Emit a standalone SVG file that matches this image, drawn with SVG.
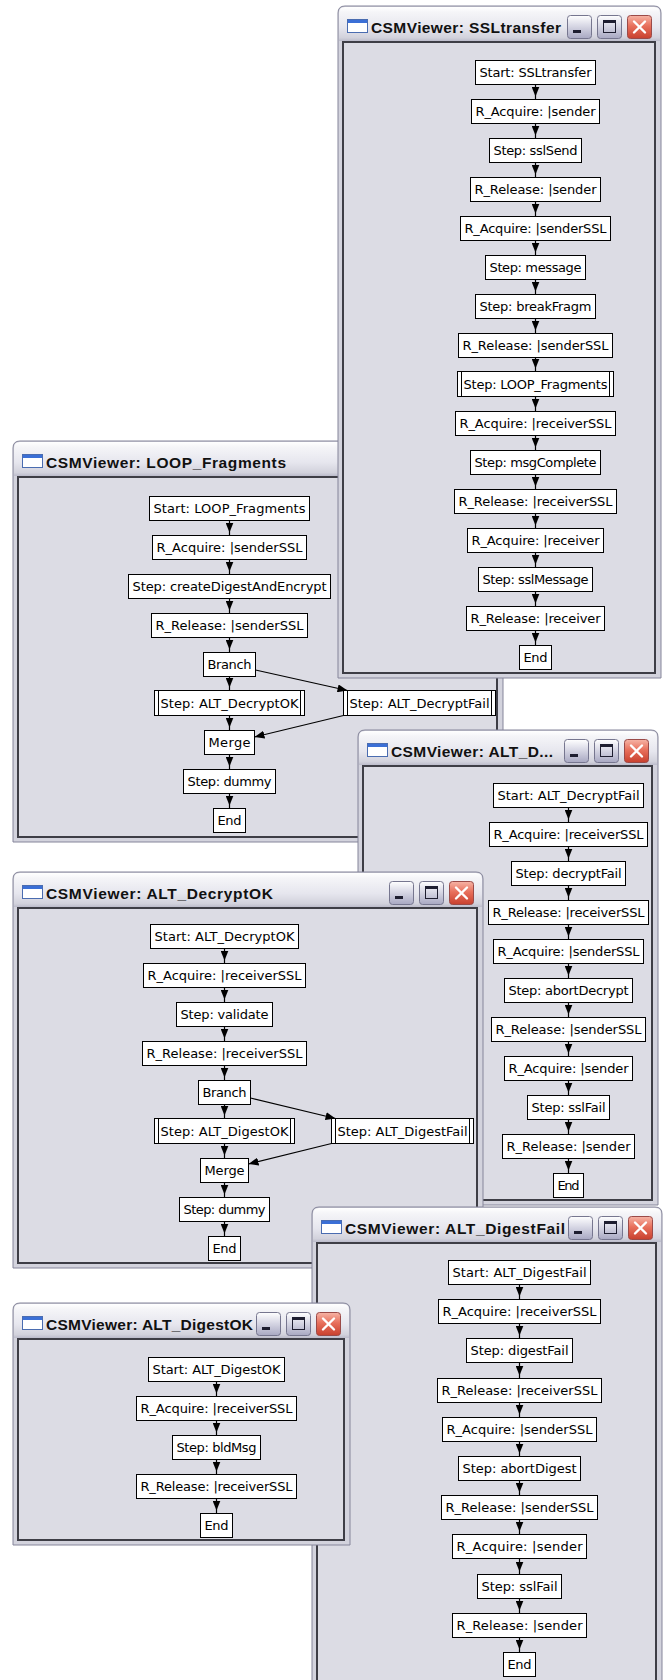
<svg xmlns="http://www.w3.org/2000/svg" xmlns:xlink="http://www.w3.org/1999/xlink" width="665" height="1680" viewBox="0 0 665 1680">
<style>
.frame{fill:#d3d3dd;stroke:#85859a;stroke-width:1}
.tbar{fill:url(#gTitle)}
.client{fill:#dcdce4;stroke:#3e3e46;stroke-width:2}
.ttl{font-family:"Liberation Sans",Arial,sans-serif;font-weight:bold;font-size:15.5px;fill:#111}
.btn{fill:url(#gBtn);stroke:#76768f;stroke-width:1}
.btnx{fill:url(#gClose);stroke:#9a4a48;stroke-width:1}
.xg{stroke:#fff;stroke-width:2.4;stroke-linecap:round;fill:none}
.node rect{fill:#fff;stroke:#000;stroke-width:1}
.node line{stroke:#000;stroke-width:1}
.node text{font-family:"DejaVu Sans",Verdana,sans-serif;font-size:13px;fill:#000;text-anchor:middle}
.conn path{fill:none;stroke:#000;stroke-width:1.2}
.conn .v{marker-mid:url(#ah)}
.conn .d{marker-end:url(#ah)}
</style>
<defs>
<linearGradient id="gTitle" x1="0" y1="0" x2="0" y2="1">
<stop offset="0" stop-color="#ffffff"/><stop offset="0.15" stop-color="#f5f5f8"/><stop offset="0.6" stop-color="#e6e6ee"/><stop offset="0.9" stop-color="#d2d2dc"/><stop offset="1" stop-color="#bcbccb"/>
</linearGradient>
<linearGradient id="gBtn" x1="0" y1="0" x2="0" y2="1">
<stop offset="0" stop-color="#ffffff"/><stop offset="0.4" stop-color="#dcdce8"/><stop offset="1" stop-color="#a8a8c2"/>
</linearGradient>
<linearGradient id="gClose" x1="0" y1="0" x2="0" y2="1">
<stop offset="0" stop-color="#f6b4a6"/><stop offset="0.45" stop-color="#e8705c"/><stop offset="1" stop-color="#c8402e"/>
</linearGradient>
<marker id="ah" viewBox="0 0 10 8" refX="10" refY="4" markerWidth="10" markerHeight="8" markerUnits="userSpaceOnUse" orient="auto">
<path d="M0,0 L10,4 L0,8 z" fill="#000"/>
</marker>
<g id="btnMin"><rect class="btn" x="0.5" y="0.5" width="24" height="23" rx="3"/><rect x="6" y="15" width="8" height="3" fill="#1e1e30"/></g>
<g id="btnMax"><rect class="btn" x="0.5" y="0.5" width="24" height="23" rx="3"/><rect x="6.5" y="5.5" width="12" height="12" fill="none" stroke="#1e1e30"/><rect x="6.5" y="5.5" width="12" height="2.5" fill="#1e1e30"/></g>
<g id="btnClose"><rect class="btnx" x="0.5" y="0.5" width="24" height="23" rx="3"/><path class="xg" d="M7,6.5 L18,17.5 M18,6.5 L7,17.5"/></g>
<g id="winIcon"><rect x="0.5" y="0.5" width="20" height="13" fill="#fff" stroke="#4a6cb0"/><rect x="1" y="1" width="19" height="3" fill="#3b6fd6"/></g>
</defs>

<rect width="665" height="1680" fill="#fff"/>

<!-- window chrome, back to front -->
<g id="win-loop-fragments">
<path class="frame" d="M13,842 V448 Q13,441 20,441 H496 Q503,441 503,448 V842 Z"/>
<path class="tbar" d="M14,476 V448 Q14,442 20,442 H496 Q502,442 502,448 V476 Z"/>
<rect class="client" x="18" y="477" width="479" height="360"/>
<use href="#winIcon" x="22" y="454"/>
<text class="ttl" x="46" y="468" textLength="240">CSMViewer: LOOP_Fragments</text>
</g>

<g id="win-ssltransfer">
<path class="frame" d="M338,678 V13 Q338,6 345,6 H654 Q661,6 661,13 V678 Z"/>
<path class="tbar" d="M339,41 V13 Q339,7 345,7 H654 Q660,7 660,13 V41 Z"/>
<rect class="client" x="343" y="42" width="312" height="631"/>
<use href="#winIcon" x="347" y="19"/>
<text class="ttl" x="371" y="33" textLength="190">CSMViewer: SSLtransfer</text>
<use href="#btnMin" x="567" y="15"/>
<use href="#btnMax" x="597" y="15"/>
<use href="#btnClose" x="627" y="15"/>
</g>

<g id="win-alt-decryptfail">
<path class="frame" d="M358,1205 V737 Q358,730 365,730 H651 Q658,730 658,737 V1205 Z"/>
<path class="tbar" d="M359,765 V737 Q359,731 365,731 H651 Q657,731 657,737 V765 Z"/>
<rect class="client" x="363" y="766" width="289" height="434"/>
<use href="#winIcon" x="367" y="743"/>
<text class="ttl" x="391" y="757" textLength="162">CSMViewer: ALT_D...</text>
<use href="#btnMin" x="564" y="739"/>
<use href="#btnMax" x="594" y="739"/>
<use href="#btnClose" x="624" y="739"/>
</g>

<g id="win-alt-decryptok">
<path class="frame" d="M13,1268 V879 Q13,872 20,872 H476 Q483,872 483,879 V1268 Z"/>
<path class="tbar" d="M14,907 V879 Q14,873 20,873 H476 Q482,873 482,879 V907 Z"/>
<rect class="client" x="18" y="908" width="459" height="355"/>
<use href="#winIcon" x="22" y="885"/>
<text class="ttl" x="46" y="899" textLength="227">CSMViewer: ALT_DecryptOK</text>
<use href="#btnMin" x="389" y="881"/>
<use href="#btnMax" x="419" y="881"/>
<use href="#btnClose" x="449" y="881"/>
</g>

<g id="win-alt-digestfail">
<path class="frame" d="M312,1700 V1214 Q312,1207 319,1207 H655 Q662,1207 662,1214 V1700 Z"/>
<path class="tbar" d="M313,1242 V1214 Q313,1208 319,1208 H655 Q661,1208 661,1214 V1242 Z"/>
<rect class="client" x="317" y="1243" width="339" height="460"/>
<use href="#winIcon" x="321" y="1220"/>
<text class="ttl" x="345" y="1234" textLength="220">CSMViewer: ALT_DigestFail</text>
<use href="#btnMin" x="568" y="1216"/>
<use href="#btnMax" x="598" y="1216"/>
<use href="#btnClose" x="628" y="1216"/>
</g>

<g id="win-alt-digestok">
<path class="frame" d="M13,1545 V1310 Q13,1303 20,1303 H343 Q350,1303 350,1310 V1545 Z"/>
<path class="tbar" d="M14,1338 V1310 Q14,1304 20,1304 H343 Q349,1304 349,1310 V1338 Z"/>
<rect class="client" x="18" y="1339" width="326" height="201"/>
<use href="#winIcon" x="22" y="1316"/>
<text class="ttl" x="46" y="1330" textLength="207">CSMViewer: ALT_DigestOK</text>
<use href="#btnMin" x="256" y="1312"/>
<use href="#btnMax" x="286" y="1312"/>
<use href="#btnClose" x="316" y="1312"/>
</g>

<!-- SSLtransfer nodes -->
<g id="ssl-start" class="node"><rect x="475.5" y="60.5" width="120" height="24"/><text x="535.5" y="77" textLength="112">Start: SSLtransfer</text></g>
<g id="ssl-acq-sender" class="node"><rect x="471.5" y="99.5" width="128" height="24"/><text x="535.5" y="116" textLength="120">R_Acquire: |sender</text></g>
<g id="ssl-sslsend" class="node"><rect x="489.5" y="138.5" width="92" height="24"/><text x="535.5" y="155" textLength="84">Step: sslSend</text></g>
<g id="ssl-rel-sender" class="node"><rect x="470.5" y="177.5" width="130" height="24"/><text x="535.5" y="194" textLength="122">R_Release: |sender</text></g>
<g id="ssl-acq-senderssl" class="node"><rect x="460.5" y="216.5" width="150" height="24"/><text x="535.5" y="233" textLength="142">R_Acquire: |senderSSL</text></g>
<g id="ssl-message" class="node"><rect x="485.5" y="255.5" width="100" height="24"/><text x="535.5" y="272" textLength="92">Step: message</text></g>
<g id="ssl-breakfragm" class="node"><rect x="475.5" y="294.5" width="120" height="24"/><text x="535.5" y="311" textLength="112">Step: breakFragm</text></g>
<g id="ssl-rel-senderssl" class="node"><rect x="458.5" y="333.5" width="154" height="24"/><text x="535.5" y="350" textLength="146">R_Release: |senderSSL</text></g>
<g id="ssl-loop-fragments" class="node"><rect x="457.5" y="371.5" width="156" height="25"/><line x1="461.5" y1="371.5" x2="461.5" y2="396.5"/><line x1="609.5" y1="371.5" x2="609.5" y2="396.5"/><text x="535.5" y="389" textLength="144">Step: LOOP_Fragments</text></g>
<g id="ssl-acq-receiverssl" class="node"><rect x="455.5" y="411.5" width="160" height="24"/><text x="535.5" y="428" textLength="152">R_Acquire: |receiverSSL</text></g>
<g id="ssl-msgcomplete" class="node"><rect x="470.5" y="450.5" width="130" height="24"/><text x="535.5" y="467" textLength="122">Step: msgComplete</text></g>
<g id="ssl-rel-receiverssl" class="node"><rect x="454.5" y="489.5" width="162" height="24"/><text x="535.5" y="506" textLength="154">R_Release: |receiverSSL</text></g>
<g id="ssl-acq-receiver" class="node"><rect x="467.5" y="528.5" width="136" height="24"/><text x="535.5" y="545" textLength="128">R_Acquire: |receiver</text></g>
<g id="ssl-sslmessage" class="node"><rect x="478.5" y="567.5" width="114" height="24"/><text x="535.5" y="584" textLength="106">Step: sslMessage</text></g>
<g id="ssl-rel-receiver" class="node"><rect x="466.5" y="606.5" width="138" height="24"/><text x="535.5" y="623" textLength="130">R_Release: |receiver</text></g>
<g id="ssl-end" class="node"><rect x="519.5" y="645.5" width="32" height="24"/><text x="535.5" y="662" textLength="24">End</text></g>

<!-- LOOP_Fragments nodes -->
<g id="loop-start" class="node"><rect x="149.5" y="496.5" width="160" height="24"/><text x="229.5" y="513" textLength="152">Start: LOOP_Fragments</text></g>
<g id="loop-acq-senderssl" class="node"><rect x="152.5" y="535.5" width="154" height="24"/><text x="229.5" y="552" textLength="146">R_Acquire: |senderSSL</text></g>
<g id="loop-createdigest" class="node"><rect x="128.5" y="574.5" width="202" height="24"/><text x="229.5" y="591" textLength="194">Step: createDigestAndEncrypt</text></g>
<g id="loop-rel-senderssl" class="node"><rect x="151.5" y="613.5" width="156" height="24"/><text x="229.5" y="630" textLength="148">R_Release: |senderSSL</text></g>
<g id="loop-branch" class="node"><rect x="203.5" y="652.5" width="52" height="24"/><text x="229.5" y="669" textLength="44">Branch</text></g>
<g id="loop-alt-decryptok" class="node"><rect x="154.5" y="690.5" width="150" height="25"/><line x1="158.5" y1="690.5" x2="158.5" y2="715.5"/><line x1="300.5" y1="690.5" x2="300.5" y2="715.5"/><text x="229.5" y="708" textLength="138">Step: ALT_DecryptOK</text></g>
<g id="loop-alt-decryptfail" class="node"><rect x="343.5" y="690.5" width="152" height="25"/><line x1="347.5" y1="690.5" x2="347.5" y2="715.5"/><line x1="491.5" y1="690.5" x2="491.5" y2="715.5"/><text x="419.5" y="708" textLength="140">Step: ALT_DecryptFail</text></g>
<g id="loop-merge" class="node"><rect x="204.5" y="730.5" width="50" height="24"/><text x="229.5" y="747" textLength="42">Merge</text></g>
<g id="loop-dummy" class="node"><rect x="183.5" y="769.5" width="92" height="24"/><text x="229.5" y="786" textLength="84">Step: dummy</text></g>
<g id="loop-end" class="node"><rect x="213.5" y="808.5" width="32" height="24"/><text x="229.5" y="825" textLength="24">End</text></g>

<!-- ALT_DecryptFail nodes -->
<g id="df-start" class="node"><rect x="493.5" y="783.5" width="150" height="24"/><text x="568.5" y="800" textLength="142">Start: ALT_DecryptFail</text></g>
<g id="df-acq-receiverssl" class="node"><rect x="489.5" y="822.5" width="158" height="24"/><text x="568.5" y="839" textLength="150">R_Acquire: |receiverSSL</text></g>
<g id="df-decryptfail" class="node"><rect x="511.5" y="861.5" width="114" height="24"/><text x="568.5" y="878" textLength="106">Step: decryptFail</text></g>
<g id="df-rel-receiverssl" class="node"><rect x="488.5" y="900.5" width="160" height="24"/><text x="568.5" y="917" textLength="152">R_Release: |receiverSSL</text></g>
<g id="df-acq-senderssl" class="node"><rect x="493.5" y="939.5" width="150" height="24"/><text x="568.5" y="956" textLength="142">R_Acquire: |senderSSL</text></g>
<g id="df-abortdecrypt" class="node"><rect x="504.5" y="978.5" width="128" height="24"/><text x="568.5" y="995" textLength="120">Step: abortDecrypt</text></g>
<g id="df-rel-senderssl" class="node"><rect x="491.5" y="1017.5" width="154" height="24"/><text x="568.5" y="1034" textLength="146">R_Release: |senderSSL</text></g>
<g id="df-acq-sender" class="node"><rect x="504.5" y="1056.5" width="128" height="24"/><text x="568.5" y="1073" textLength="120">R_Acquire: |sender</text></g>
<g id="df-sslfail" class="node"><rect x="527.5" y="1095.5" width="82" height="24"/><text x="568.5" y="1112" textLength="74">Step: sslFail</text></g>
<g id="df-rel-sender" class="node"><rect x="502.5" y="1134.5" width="132" height="24"/><text x="568.5" y="1151" textLength="124">R_Release: |sender</text></g>
<g id="df-end" class="node"><rect x="553.5" y="1173.5" width="30" height="24"/><text x="568.5" y="1190" textLength="22">End</text></g>

<!-- ALT_DecryptOK nodes -->
<g id="dok-start" class="node"><rect x="150.5" y="924.5" width="148" height="24"/><text x="224.5" y="941" textLength="140">Start: ALT_DecryptOK</text></g>
<g id="dok-acq-receiverssl" class="node"><rect x="143.5" y="963.5" width="162" height="24"/><text x="224.5" y="980" textLength="154">R_Acquire: |receiverSSL</text></g>
<g id="dok-validate" class="node"><rect x="176.5" y="1002.5" width="96" height="24"/><text x="224.5" y="1019" textLength="88">Step: validate</text></g>
<g id="dok-rel-receiverssl" class="node"><rect x="142.5" y="1041.5" width="164" height="24"/><text x="224.5" y="1058" textLength="156">R_Release: |receiverSSL</text></g>
<g id="dok-branch" class="node"><rect x="198.5" y="1080.5" width="52" height="24"/><text x="224.5" y="1097" textLength="44">Branch</text></g>
<g id="dok-alt-digestok" class="node"><rect x="154.5" y="1118.5" width="140" height="25"/><line x1="158.5" y1="1118.5" x2="158.5" y2="1143.5"/><line x1="290.5" y1="1118.5" x2="290.5" y2="1143.5"/><text x="224.5" y="1136" textLength="128">Step: ALT_DigestOK</text></g>
<g id="dok-alt-digestfail" class="node"><rect x="331.5" y="1118.5" width="142" height="25"/><line x1="335.5" y1="1118.5" x2="335.5" y2="1143.5"/><line x1="469.5" y1="1118.5" x2="469.5" y2="1143.5"/><text x="402.5" y="1136" textLength="130">Step: ALT_DigestFail</text></g>
<g id="dok-merge" class="node"><rect x="200.5" y="1158.5" width="48" height="24"/><text x="224.5" y="1175" textLength="40">Merge</text></g>
<g id="dok-dummy" class="node"><rect x="179.5" y="1197.5" width="90" height="24"/><text x="224.5" y="1214" textLength="82">Step: dummy</text></g>
<g id="dok-end" class="node"><rect x="208.5" y="1236.5" width="32" height="24"/><text x="224.5" y="1253" textLength="24">End</text></g>

<!-- ALT_DigestFail nodes -->
<g id="dgf-start" class="node"><rect x="448.5" y="1260.5" width="142" height="24"/><text x="519.5" y="1277" textLength="134">Start: ALT_DigestFail</text></g>
<g id="dgf-acq-receiverssl" class="node"><rect x="438.5" y="1299.5" width="162" height="24"/><text x="519.5" y="1316" textLength="154">R_Acquire: |receiverSSL</text></g>
<g id="dgf-digestfail" class="node"><rect x="466.5" y="1338.5" width="106" height="24"/><text x="519.5" y="1355" textLength="98">Step: digestFail</text></g>
<g id="dgf-rel-receiverssl" class="node"><rect x="437.5" y="1378.5" width="164" height="24"/><text x="519.5" y="1395" textLength="156">R_Release: |receiverSSL</text></g>
<g id="dgf-acq-senderssl" class="node"><rect x="442.5" y="1417.5" width="154" height="24"/><text x="519.5" y="1434" textLength="146">R_Acquire: |senderSSL</text></g>
<g id="dgf-abortdigest" class="node"><rect x="458.5" y="1456.5" width="122" height="24"/><text x="519.5" y="1473" textLength="114">Step: abortDigest</text></g>
<g id="dgf-rel-senderssl" class="node"><rect x="441.5" y="1495.5" width="156" height="24"/><text x="519.5" y="1512" textLength="148">R_Release: |senderSSL</text></g>
<g id="dgf-acq-sender" class="node"><rect x="452.5" y="1534.5" width="134" height="24"/><text x="519.5" y="1551" textLength="126">R_Acquire: |sender</text></g>
<g id="dgf-sslfail" class="node"><rect x="477.5" y="1574.5" width="84" height="24"/><text x="519.5" y="1591" textLength="76">Step: sslFail</text></g>
<g id="dgf-rel-sender" class="node"><rect x="452.5" y="1613.5" width="134" height="24"/><text x="519.5" y="1630" textLength="126">R_Release: |sender</text></g>
<g id="dgf-end" class="node"><rect x="503.5" y="1652.5" width="32" height="24"/><text x="519.5" y="1669" textLength="24">End</text></g>

<!-- ALT_DigestOK nodes -->
<g id="dgo-start" class="node"><rect x="148.5" y="1357.5" width="136" height="24"/><text x="216.5" y="1374" textLength="128">Start: ALT_DigestOK</text></g>
<g id="dgo-acq-receiverssl" class="node"><rect x="136.5" y="1396.5" width="160" height="24"/><text x="216.5" y="1413" textLength="152">R_Acquire: |receiverSSL</text></g>
<g id="dgo-bldmsg" class="node"><rect x="172.5" y="1435.5" width="88" height="24"/><text x="216.5" y="1452" textLength="80">Step: bldMsg</text></g>
<g id="dgo-rel-receiverssl" class="node"><rect x="136.5" y="1474.5" width="160" height="24"/><text x="216.5" y="1491" textLength="152">R_Release: |receiverSSL</text></g>
<g id="dgo-end" class="node"><rect x="200.5" y="1513.5" width="32" height="24"/><text x="216.5" y="1530" textLength="24">End</text></g>

<!-- connectors -->
<g id="connectors" class="conn">
<path class="v" d="M535.5,84.5V96.5V99.5"/>
<path class="v" d="M535.5,123.5V135.5V138.5"/>
<path class="v" d="M535.5,162.5V174.5V177.5"/>
<path class="v" d="M535.5,201.5V213.5V216.5"/>
<path class="v" d="M535.5,240.5V252.5V255.5"/>
<path class="v" d="M535.5,279.5V291.5V294.5"/>
<path class="v" d="M535.5,318.5V330.5V333.5"/>
<path class="v" d="M535.5,357.5V368.5V371.5"/>
<path class="v" d="M535.5,396.5V408.5V411.5"/>
<path class="v" d="M535.5,435.5V447.5V450.5"/>
<path class="v" d="M535.5,474.5V486.5V489.5"/>
<path class="v" d="M535.5,513.5V525.5V528.5"/>
<path class="v" d="M535.5,552.5V564.5V567.5"/>
<path class="v" d="M535.5,591.5V603.5V606.5"/>
<path class="v" d="M535.5,630.5V642.5V645.5"/>

<path class="v" d="M229.5,520.5V532.5V535.5"/>
<path class="v" d="M229.5,559.5V571.5V574.5"/>
<path class="v" d="M229.5,598.5V610.5V613.5"/>
<path class="v" d="M229.5,637.5V649.5V652.5"/>
<path class="v" d="M229.5,676.5V687.5V690.5"/>
<path class="v" d="M229.5,715.5V727.5V730.5"/>
<path class="v" d="M229.5,754.5V766.5V769.5"/>
<path class="v" d="M229.5,793.5V805.5V808.5"/>
<path class="d" d="M255.5,670 L347.5,690.5"/>
<path class="d" d="M343.5,715.5 L254.5,737"/>

<path class="v" d="M568.5,807.5V819.5V822.5"/>
<path class="v" d="M568.5,846.5V858.5V861.5"/>
<path class="v" d="M568.5,885.5V897.5V900.5"/>
<path class="v" d="M568.5,924.5V936.5V939.5"/>
<path class="v" d="M568.5,963.5V975.5V978.5"/>
<path class="v" d="M568.5,1002.5V1014.5V1017.5"/>
<path class="v" d="M568.5,1041.5V1053.5V1056.5"/>
<path class="v" d="M568.5,1080.5V1092.5V1095.5"/>
<path class="v" d="M568.5,1119.5V1131.5V1134.5"/>
<path class="v" d="M568.5,1158.5V1170.5V1173.5"/>

<path class="v" d="M224.5,948.5V960.5V963.5"/>
<path class="v" d="M224.5,987.5V999.5V1002.5"/>
<path class="v" d="M224.5,1026.5V1038.5V1041.5"/>
<path class="v" d="M224.5,1065.5V1077.5V1080.5"/>
<path class="v" d="M224.5,1104.5V1115.5V1118.5"/>
<path class="v" d="M224.5,1143.5V1155.5V1158.5"/>
<path class="v" d="M224.5,1182.5V1194.5V1197.5"/>
<path class="v" d="M224.5,1221.5V1233.5V1236.5"/>
<path class="d" d="M250.5,1098 L335.5,1118.5"/>
<path class="d" d="M331.5,1143.5 L248.5,1164"/>

<path class="v" d="M519.5,1284.5V1296.5V1299.5"/>
<path class="v" d="M519.5,1323.5V1335.5V1338.5"/>
<path class="v" d="M519.5,1362.5V1375.5V1378.5"/>
<path class="v" d="M519.5,1402.5V1414.5V1417.5"/>
<path class="v" d="M519.5,1441.5V1453.5V1456.5"/>
<path class="v" d="M519.5,1480.5V1492.5V1495.5"/>
<path class="v" d="M519.5,1519.5V1531.5V1534.5"/>
<path class="v" d="M519.5,1558.5V1571.5V1574.5"/>
<path class="v" d="M519.5,1598.5V1610.5V1613.5"/>
<path class="v" d="M519.5,1637.5V1649.5V1652.5"/>

<path class="v" d="M216.5,1381.5V1393.5V1396.5"/>
<path class="v" d="M216.5,1420.5V1432.5V1435.5"/>
<path class="v" d="M216.5,1459.5V1471.5V1474.5"/>
<path class="v" d="M216.5,1498.5V1510.5V1513.5"/>
</g>
</svg>
